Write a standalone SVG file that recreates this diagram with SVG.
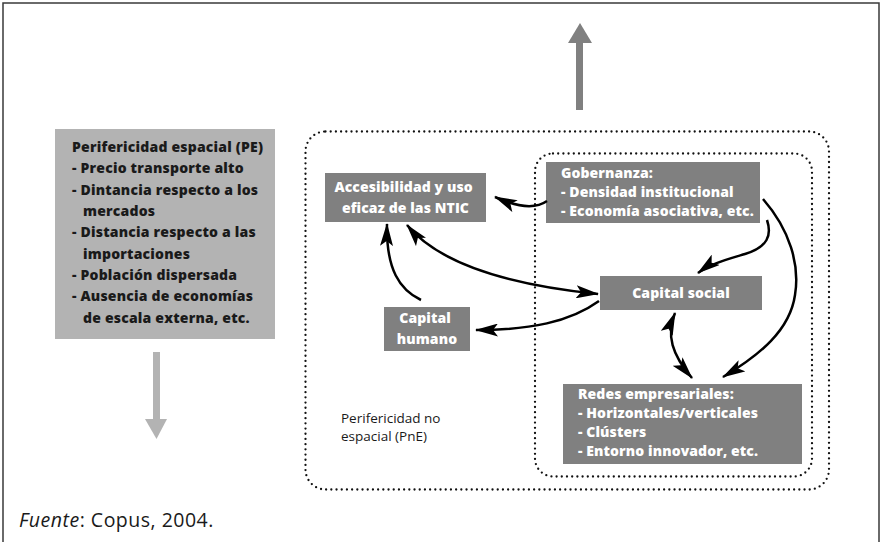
<svg xmlns="http://www.w3.org/2000/svg" width="881" height="542" viewBox="0 0 881 542">
  <style>
    .bg { fill: #ffffff; }
    .frame { fill: none; stroke: #3a3a3a; stroke-width: 1.5; }
    .dotted { fill: none; stroke: #111; stroke-width: 2.3; stroke-linecap: round; stroke-dasharray: 0 5.2; }
    .node { fill: #808080; }
    .pe { fill: #b3b3b3; }
    .ntext { font-family: "Open Sans", "Liberation Sans", sans-serif; font-weight: 800; font-size: 14px; fill: #ffffff; letter-spacing: 0.1px; }
    .petext { font-family: "Open Sans", "Liberation Sans", sans-serif; font-weight: 800; font-size: 14px; fill: #1a1a1a; letter-spacing: 0.2px; }
    .plain { font-family: "Open Sans", "Liberation Sans", sans-serif; font-size: 13.5px; fill: #1a1a1a; }
    .src { font-family: "Open Sans", "Liberation Sans", sans-serif; font-size: 19.5px; fill: #1a1a1a; letter-spacing: 0.5px; }
    .link { fill: none; stroke: #000; stroke-width: 2.5; }
  </style>
  <defs>
    <marker id="head" viewBox="0 0 23 13" refX="22" refY="6.5" markerWidth="23" markerHeight="13" markerUnits="userSpaceOnUse" orient="auto-start-reverse">
      <path d="M0,0 L23,6.5 L0,13 L5,6.5 z" fill="#000"/>
    </marker>
  </defs>

  <rect class="bg" x="0" y="0" width="881" height="542"/>
  <path class="frame" d="M3,545 V3 H879 V545"/>

  <!-- large trend arrows -->
  <g id="arrow-up">
    <rect x="576" y="42" width="7" height="68" fill="#808080"/>
    <polygon points="568,43 592,43 580,23" fill="#808080"/>
  </g>
  <g id="arrow-down">
    <rect x="153" y="352" width="7" height="68" fill="#b3b3b3"/>
    <polygon points="145,419 167,419 156.5,439" fill="#b3b3b3"/>
  </g>

  <!-- spatial peripherality box -->
  <g id="pe">
    <rect class="pe" x="55" y="129" width="220" height="210"/>
    <text class="petext">
      <tspan x="72" y="152">Perifericidad espacial (PE)</tspan>
      <tspan x="72" y="173">- Precio transporte alto</tspan>
      <tspan x="72" y="195">- Dintancia respecto a los</tspan>
      <tspan x="83" y="216">mercados</tspan>
      <tspan x="72" y="237">- Distancia respecto a las</tspan>
      <tspan x="83" y="259">importaciones</tspan>
      <tspan x="72" y="280">- Población dispersada</tspan>
      <tspan x="72" y="301">- Ausencia de economías</tspan>
      <tspan x="83" y="323">de escala externa, etc.</tspan>
    </text>
  </g>

  <!-- non-spatial peripherality regions -->
  <g id="pne">
    <rect class="dotted" x="305.5" y="131.5" width="523.5" height="358" rx="20"/>
    <text class="plain">
      <tspan x="341" y="423">Perifericidad no</tspan>
      <tspan x="341" y="441">espacial (PnE)</tspan>
    </text>
  </g>
  <g id="capital-social-area">
    <rect class="dotted" x="535" y="153.5" width="277" height="323" rx="18"/>
  </g>

  <!-- nodes -->
  <g id="accesibilidad">
    <rect class="node" x="325" y="173" width="161" height="49"/>
    <text class="ntext" text-anchor="middle">
      <tspan x="405.5" y="192">Accesibilidad y uso</tspan>
      <tspan x="405.5" y="213">eficaz de las NTIC</tspan>
    </text>
  </g>
  <g id="gobernanza">
    <rect class="node" x="546" y="162" width="214" height="61"/>
    <text class="ntext">
      <tspan x="561" y="178">Gobernanza:</tspan>
      <tspan x="561" y="197">- Densidad institucional</tspan>
      <tspan x="561" y="216">- Economía asociativa, etc.</tspan>
    </text>
  </g>
  <g id="capital-social">
    <rect class="node" x="600" y="276" width="162" height="34"/>
    <text class="ntext" text-anchor="middle" x="681" y="298">Capital social</text>
  </g>
  <g id="capital-humano">
    <rect class="node" x="384" y="307" width="86" height="44"/>
    <text class="ntext" text-anchor="middle">
      <tspan x="427" y="323">Capital</tspan>
      <tspan x="427" y="344">humano</tspan>
    </text>
  </g>
  <g id="redes">
    <rect class="node" x="563" y="384" width="239" height="80"/>
    <text class="ntext">
      <tspan x="578" y="399">Redes empresariales:</tspan>
      <tspan x="578" y="418">- Horizontales/verticales</tspan>
      <tspan x="578" y="437">- Clústers</tspan>
      <tspan x="578" y="456">- Entorno innovador, etc.</tspan>
    </text>
  </g>

  <!-- connectors -->
  <g id="connectors">
    <path class="link" marker-end="url(#head)" d="M547,201 Q530,213 495,197"/>
    <path class="link" marker-end="url(#head)" d="M421,300 C400,290 386,270 387,224"/>
    <path class="link" marker-start="url(#head)" marker-end="url(#head)" d="M407,225 C440,265 510,285 598,294"/>
    <path class="link" marker-end="url(#head)" d="M599,301 C570,322 530,330 476,330"/>
    <path class="link" marker-end="url(#head)" d="M767,220 C772,235 768,247 745,254 C725,260 710,264 698,273"/>
    <path class="link" marker-end="url(#head)" d="M763,199 C790,230 800,265 795,295 C790,330 760,355 723,377"/>
    <path class="link" marker-start="url(#head)" marker-end="url(#head)" d="M675,313 C666,335 672,355 692,378"/>
  </g>

  <text class="src" x="19" y="527"><tspan font-style="italic">Fuente</tspan>: Copus, 2004.</text>
</svg>
